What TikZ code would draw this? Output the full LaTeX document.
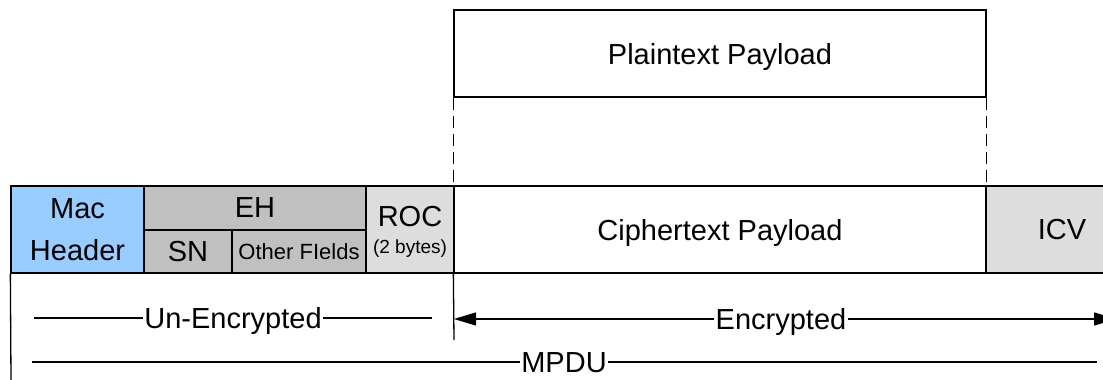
\documentclass[tikz,border=0pt]{standalone}
\usepackage{fontspec}
\setmainfont{Liberation Sans}
\usetikzlibrary{positioning, calc, arrows.meta}
\definecolor{macblue}{HTML}{99CCFF}
\definecolor{ehgray}{HTML}{C0C0C0}
\definecolor{rocgray}{HTML}{DDDDDD}

\begin{document}
\begin{tikzpicture}[x=1pt, y=1pt, line width=1.3pt,
  field/.style={draw, rectangle, inner sep=0pt, align=center, text depth=0pt, font=\fontsize{29}{42}\selectfont},
  span/.style={inner sep=0pt, inner xsep=1pt, text height=20.5pt, text depth=0pt, font=\fontsize{29}{34}\selectfont},
  >={Triangle[length=22pt, width=13pt]}]
  \useasboundingbox (0,0) rectangle (1103,380);
  % frame row
  \node[field, fill=macblue, minimum width=133pt, minimum height=87pt] (mac) at (77.5,150.5) {Mac\\Header};
  \node[field, fill=ehgray, minimum width=222pt, minimum height=44pt] (eh) at (255,172) {EH};
  \node[field, fill=ehgray, minimum width=88pt, minimum height=43pt] (sn) at (188,128.5) {SN};
  \node[field, fill=ehgray, minimum width=134pt, minimum height=43pt, font=\fontsize{22}{26}\selectfont] (other) at (299,128.5) {Other FIelds};
  \node[field, fill=rocgray, minimum width=88pt, minimum height=87pt, font=\fontsize{29}{27}\selectfont] (roc) at (410,150.5) {ROC\\{\fontsize{19}{22}\selectfont (2 bytes)}};
  \node[field, minimum width=532pt, minimum height=87pt] (cipher) at (720,150.5) {Ciphertext Payload};
  \node[field, fill=rocgray, minimum width=152pt, minimum height=87pt] (icv) at (1062,150.5) {ICV};
  % plaintext above
  \node[field, minimum width=532pt, minimum height=87pt] (plain) at (720,326.5) {Plaintext Payload};
  \path[dashed, dash pattern=on 12pt off 6pt]
    (plain.south west) edge (cipher.north west)
    (plain.south east) edge (cipher.north east);
  % spans
  \coordinate (leftend) at (11,0);
  \coordinate (encend) at (454,40);
  \draw (mac.south west) -- (leftend);
  \draw (cipher.south west) -- (encend);
  \coordinate (ue-l) at (34,62);
  \coordinate (ue-r) at (432,62);
  \node[span] (unenc) at (233,62) {Un-Encrypted};
  \draw (ue-l) -- (unenc) -- (ue-r);
  \coordinate (en-l) at (454,61);
  \coordinate (en-r) at (1116,61);
  \node[span] (enc) at (781,61) {Encrypted};
  \draw[<-] (en-l) -- (enc);
  \draw[->] (enc) -- (en-r);
  \coordinate (mp-l) at (32,18);
  \coordinate (mp-r) at (1097,18);
  \node[span] (mpdu) at (564,18) {MPDU};
  \draw (mp-l) -- (mpdu) -- (mp-r);
\end{tikzpicture}
\end{document}
